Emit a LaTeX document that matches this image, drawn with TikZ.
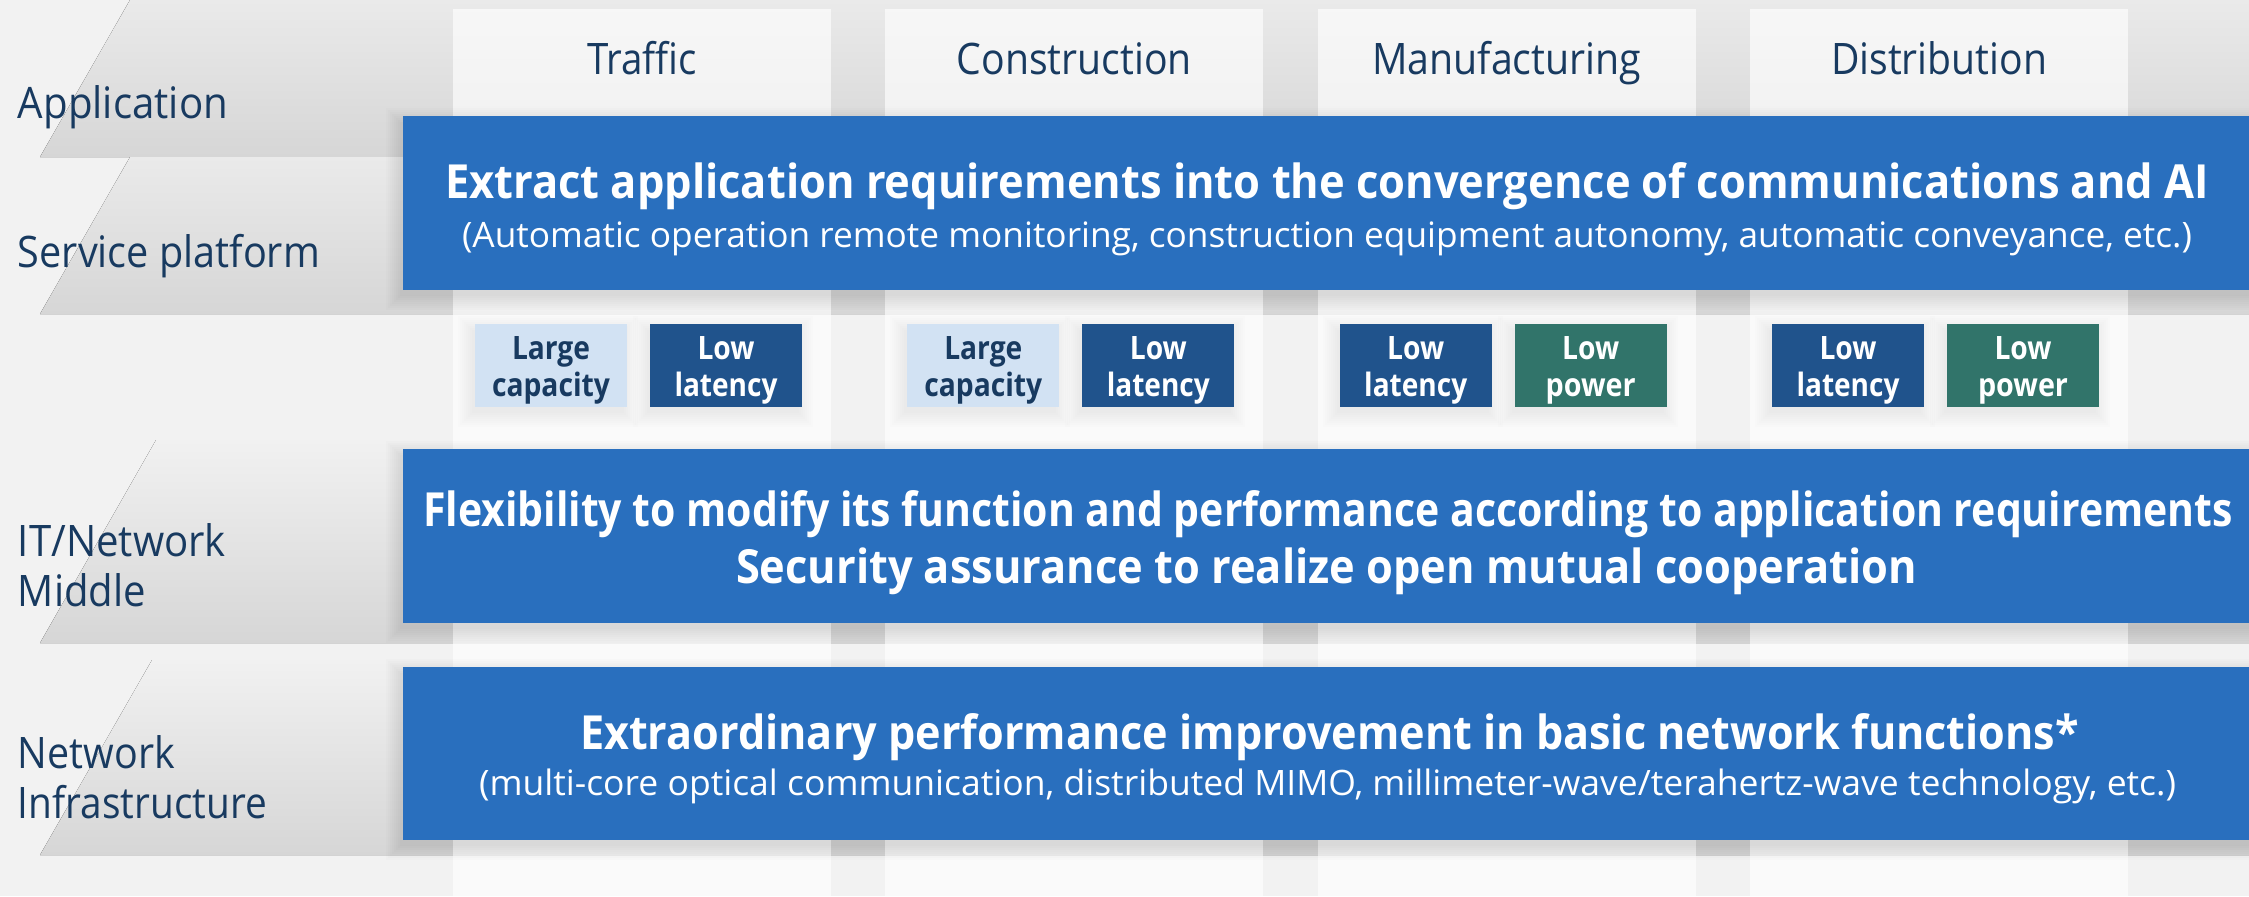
\documentclass[tikz,border=0pt]{standalone}
\usepackage{fontspec}
\usepackage{graphicx}
\setmainfont{Open Sans}
\IfFontExistsTF{Open Sans SemiBold}{\newfontfamily\sbfont{Open Sans SemiBold}}{\newcommand\sbfont{\bfseries}}
\definecolor{bgc}{RGB}{242,242,242}
\definecolor{mainblue}{RGB}{41,111,190}
\definecolor{navy}{RGB}{24,58,96}
\definecolor{dkblue}{RGB}{32,83,140}
\definecolor{boxgreen}{RGB}{49,116,106}
\definecolor{ltblue}{RGB}{210,226,243}
\definecolor{bandtopA}{RGB}{234,234,234}
\definecolor{bandtopC}{RGB}{241,241,241}
\definecolor{bandbot}{RGB}{214,214,214}
\newcommand\fw[2]{\resizebox{#1pt}{\height}{#2}}
% soft shadow: x1 y1 x2 y2 (px), opacity per layer
\newcommand\softshadow[5]{%
  \foreach \k in {0,...,7}{%
    \fill[black, opacity=#5] ({#1-3-2*\k},{#2+6-2*\k}) rectangle ({#3-3+2*\k},{#4+6+2*\k});
  }%
}
\tikzset{
  lab/.style={anchor=base west, inner sep=0pt, outer sep=0pt, text=navy, font=\fontsize{21.7}{26}\selectfont},
  hdr/.style={anchor=base, inner sep=0pt, outer sep=0pt, text=navy, font=\fontsize{21.7}{26}\selectfont},
  bt/.style={anchor=base west, inner sep=0pt, outer sep=0pt, text=white, font=\fontsize{23.5}{28}\sbfont},
  st/.style={anchor=base west, inner sep=0pt, outer sep=0pt, text=white, font=\fontsize{17.5}{21}\selectfont},
  bluebox/.style={fill=mainblue, draw=none, inner sep=0pt, outer sep=0pt, anchor=north west, minimum width=935pt},
  smallbox/.style={draw=none, inner sep=0pt, outer sep=0pt, minimum width=76pt, minimum height=41.5pt},
  boxtxt/.style={anchor=base, inner sep=0pt, outer sep=0pt, font=\fontsize{16.1}{19}\sbfont},
}
\newcommand\reqbox[8]{%
  \softshadow{#2-76}{324}{#2+76}{407}{0.009}
  \node[smallbox, fill=#3] (#1) at (#2,365.5) {};
  \node[boxtxt, text=#4] (#1-a) at (#2,359) {\fw{#6}{#5}};
  \node[boxtxt, text=#4] (#1-b) at (#2,396) {\fw{#8}{#7}};
}
\begin{document}
\begin{tikzpicture}[x=0.5pt, y=-0.5pt]
\useasboundingbox (0,0) rectangle (2249,896);
\fill[bgc] (0,0) rectangle (2249,896);
% layer bands
\fill[top color=bandtopA, bottom color=bandbot] (130,0) -- (2249,0) -- (2249,157) -- (40,157) -- cycle;
\fill[top color=bandtopA, bottom color=bandbot] (130,157) -- (2249,157) -- (2249,314) -- (40,314) -- cycle;
\fill[top color=bandtopC, bottom color=bandbot] (156,440) -- (2249,440) -- (2249,643) -- (40,643) -- cycle;
\fill[top color=bandtopC, bottom color=bandbot] (152,660) -- (2249,660) -- (2249,855) -- (40,855) -- cycle;
% columns
\foreach \i in {0,...,3} {
  \fill[white, opacity=0.65] ({453+432.33*\i},9) rectangle ++(378,900);
}
% column headers
\node[hdr] (hTraffic) at (642,74) {\fw{55}{Traffic}};
\node[hdr] (hConstr) at (1074.3,74) {\fw{117.5}{Construction}};
\node[hdr] (hManuf) at (1506.7,74) {\fw{134.5}{Manufacturing}};
\node[hdr] (hDistr) at (1939,74) {\fw{108}{Distribution}};
% layer labels
\node[lab] (lApp) at (18,118) {\fw{105}{Application}};
\node[lab] (lSvc) at (18,267) {\fw{151}{Service platform}};
\node[lab] (lIT) at (18,556) {\fw{104}{IT/Network}};
\node[lab] (lMid) at (18,606) {\fw{64}{Middle}};
\node[lab] (lNet) at (18,768) {\fw{78.5}{Network}};
\node[lab] (lInf) at (18,818) {\fw{124.5}{Infrastructure}};
% blue boxes
\softshadow{403}{116}{2260}{290}{0.012}
\softshadow{403}{449}{2260}{623}{0.012}
\softshadow{403}{667}{2260}{840}{0.012}
\node[bluebox, minimum height=87pt] (b1) at (403,116) {};
\node[bluebox, minimum height=87pt] (b2) at (403,449) {};
\node[bluebox, minimum height=86.5pt] (b3) at (403,667) {};
\node[bt] (t1a) at (445,198) {\fw{882}{Extract application requirements into the convergence of communications and AI}};
\node[st] (t1b) at (462,247) {\fw{865}{(Automatic operation remote monitoring, construction equipment autonomy, automatic conveyance, etc.)}};
\node[bt] (t2a) at (423,526) {\fw{905}{Flexibility to modify its function and performance according to application requirements}};
\node[bt] (t2b) at (736,583) {\fw{590.5}{Security assurance to realize open mutual cooperation}};
\node[bt] (t3a) at (580,749) {\fw{749.5}{Extraordinary performance improvement in basic network functions*}};
\node[st] (t3b) at (479,795) {\fw{848.5}{(multi-core optical communication, distributed MIMO, millimeter-wave/terahertz-wave technology, etc.)}};
% requirement boxes
\reqbox{tA}{551}{ltblue}{navy}{Large}{39}{capacity}{59}
\reqbox{tB}{726}{dkblue}{white}{Low}{28.5}{latency}{51.5}
\reqbox{cA}{983.3}{ltblue}{navy}{Large}{39}{capacity}{59}
\reqbox{cB}{1158.3}{dkblue}{white}{Low}{28.5}{latency}{51.5}
\reqbox{mA}{1415.7}{dkblue}{white}{Low}{28.5}{latency}{51.5}
\reqbox{mB}{1590.7}{boxgreen}{white}{Low}{28.5}{power}{45}
\reqbox{dA}{1848}{dkblue}{white}{Low}{28.5}{latency}{51.5}
\reqbox{dB}{2023}{boxgreen}{white}{Low}{28.5}{power}{45}
\end{tikzpicture}
\end{document}
